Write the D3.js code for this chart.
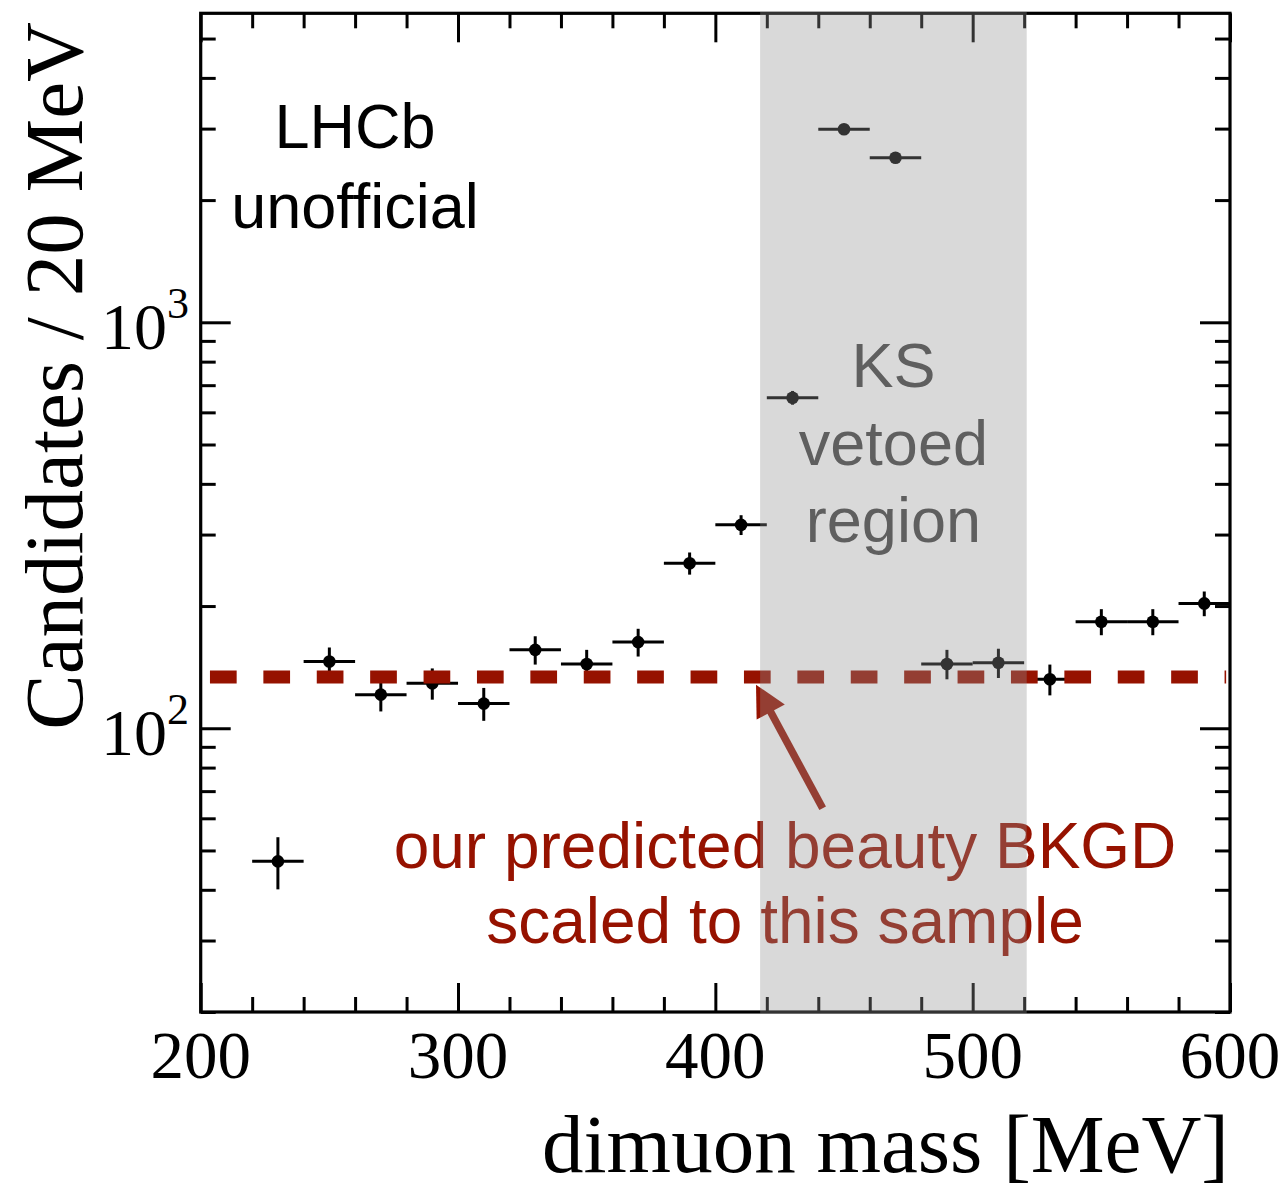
<!DOCTYPE html>
<html>
<head>
<meta charset="utf-8">
<script src="https://cdn.jsdelivr.net/npm/d3@7"></script>
<style>
  html, body { margin: 0; padding: 0; background: #fff; }
  svg { display: block; }
</style>
</head>
<body>
<svg id="chart" width="1285" height="1191"></svg>
<script>
// Dimuon mass spectrum, 20 MeV bins
const massBins = [230, 250, 270, 290, 310, 330, 350, 370, 390, 410, 430, 450, 470, 490, 510, 530, 550, 570, 590];
const counts   = [47, 146, 121, 129, 115, 156, 144, 163, 255, 317, 652, 2988, 2543, 144, 145, 132, 183, 183, 203];
const countErrs = [6.9, 12.1, 11.0, 11.4, 10.7, 12.5, 12.0, 12.8, 16.0, 17.8, 25.5, 54.7, 50.4, 12.0, 12.0, 11.5, 13.5, 13.5, 14.2];
const binHalfWidth = 10;

// Predicted beauty background level and its drawn extent
const bkgdLevel = 133.8;
const bkgdRange = [203.6, 598.5];

// K_S veto window
const vetoRange = [417.4, 521];

// Axis ranges and labels
const massDomain = [200, 600];
const countDomain = [20, 5770];
const xTickLabels = [200, 300, 400, 500, 600];
const yTickLabels = [100, 1000];
const yTickExponents = ["2", "3"];

// Arrow pointing at the background line
const arrowTail = { mass: 441.7, count: 63.5 };
const arrowTip  = { mass: 415.8, count: 128 };

const RED = "#961200";
const serif = "'Liberation Serif', 'Times New Roman', serif";
const sans = "'Liberation Sans', Arial, Helvetica, sans-serif";

const svg = d3.select("#chart");
const frame = { left: 200.7, right: 1230, top: 13.3, bottom: 1012 };

const x = d3.scaleLinear().domain(massDomain).range([frame.left, frame.right]);
const y = d3.scaleLog().domain(countDomain).range([frame.bottom, frame.top]);

const plot = svg.append("g");

// Frame ticks: majors long, minors short, mirrored on all four sides
const xMinor = x.ticks(20).filter(v => !xTickLabels.includes(v));
const yMinor = y.ticks().filter(v => !yTickLabels.includes(v));

function styleAxis(g) {
  g.select(".domain").remove();
  g.selectAll(".tick line").attr("stroke", "#000").attr("stroke-width", 3);
  g.selectAll(".tick text").remove();
}

function tickPair(axisFn, scale, pos, isX, majorLen, minorLen, minors, majors) {
  const tr = isX ? `translate(0,${pos})` : `translate(${pos},0)`;
  plot.append("g").attr("transform", tr)
    .call(axisFn(scale).tickValues(majors).tickSize(-majorLen).tickSizeOuter(0)).call(styleAxis);
  plot.append("g").attr("transform", tr)
    .call(axisFn(scale).tickValues(minors).tickSize(-minorLen).tickSizeOuter(0)).call(styleAxis);
}
tickPair(d3.axisBottom, x, frame.bottom, true, 29, 15, xMinor, xTickLabels);
tickPair(d3.axisTop, x, frame.top, true, 29, 15, xMinor, xTickLabels);
tickPair(d3.axisLeft, y, frame.left, false, 30, 15, yMinor, yTickLabels);
tickPair(d3.axisRight, y, frame.right, false, 30, 15, yMinor, yTickLabels);

// Frame
plot.append("rect")
  .attr("x", frame.left).attr("y", frame.top)
  .attr("width", frame.right - frame.left).attr("height", frame.bottom - frame.top)
  .attr("fill", "none").attr("stroke", "#000").attr("stroke-width", 3.2);

// Tick labels
svg.append("g").selectAll("text").data(xTickLabels).join("text")
  .attr("x", d => x(d)).attr("y", 1078)
  .attr("text-anchor", "middle")
  .attr("font-family", serif).attr("font-size", 67)
  .text(d => d);

const yLab = svg.append("g").selectAll("text").data(yTickLabels).join("text")
  .attr("x", 189).attr("y", d => y(d) + 27)
  .attr("text-anchor", "end")
  .attr("font-family", serif).attr("font-size", 66);
yLab.append("tspan").text("10");
yLab.append("tspan").attr("dy", -31).attr("font-size", 44).text((d, i) => yTickExponents[i]);

// Axis titles
svg.append("text")
  .attr("x", 1229).attr("y", 1172)
  .attr("text-anchor", "end")
  .attr("font-family", serif).attr("font-size", 83)
  .text("dimuon mass [MeV]");
svg.append("text")
  .attr("transform", "translate(82,22) rotate(-90)")
  .attr("text-anchor", "end")
  .attr("font-family", serif).attr("font-size", 83)
  .text("Candidates / 20 MeV");

// Data points with error bars
const pts = plot.append("g").selectAll("g").data(massBins).join("g");
pts.append("line")
  .attr("x1", d => x(d - binHalfWidth)).attr("x2", d => x(d + binHalfWidth))
  .attr("y1", (d, i) => y(counts[i])).attr("y2", (d, i) => y(counts[i]))
  .attr("stroke", "#000").attr("stroke-width", 3);
pts.append("line")
  .attr("x1", d => x(d)).attr("x2", d => x(d))
  .attr("y1", (d, i) => y(counts[i] - countErrs[i])).attr("y2", (d, i) => y(counts[i] + countErrs[i]))
  .attr("stroke", "#000").attr("stroke-width", 3);
pts.append("circle")
  .attr("cx", d => x(d)).attr("cy", (d, i) => y(counts[i]))
  .attr("r", 6.3).attr("fill", "#000");

// Predicted background level
plot.append("line")
  .attr("x1", x(bkgdRange[0])).attr("x2", x(bkgdRange[1]))
  .attr("y1", y(bkgdLevel)).attr("y2", y(bkgdLevel))
  .attr("stroke", RED).attr("stroke-width", 13)
  .attr("stroke-dasharray", "26.7 26.7");

// Annotation arrow
{
  const x0 = x(arrowTail.mass), y0 = y(arrowTail.count);
  const x1 = x(arrowTip.mass), y1 = y(arrowTip.count);
  const ang = Math.atan2(y1 - y0, x1 - x0);
  const headLen = 31, headHalf = 16;
  const bx = x1 - headLen * Math.cos(ang), by = y1 - headLen * Math.sin(ang);
  const nx = -Math.sin(ang), ny = Math.cos(ang);
  plot.append("line")
    .attr("x1", x0).attr("y1", y0).attr("x2", bx + 4 * Math.cos(ang)).attr("y2", by + 4 * Math.sin(ang))
    .attr("stroke", RED).attr("stroke-width", 7.5);
  plot.append("path")
    .attr("d", `M${x1},${y1}L${bx + headHalf * nx},${by + headHalf * ny}L${bx - headHalf * nx},${by - headHalf * ny}Z`)
    .attr("fill", RED);
}

// Annotation texts
const vetoMid = x((vetoRange[0] + vetoRange[1]) / 2);
svg.append("text")
  .attr("font-family", sans).attr("font-size", 63)
  .attr("text-anchor", "middle").attr("fill", "#444")
  .selectAll("tspan").data(["KS", "vetoed", "region"]).join("tspan")
  .attr("x", vetoMid).attr("y", (d, i) => 387 + i * 77.5).text(d => d);

svg.append("text")
  .attr("font-family", sans).attr("font-size", 63)
  .attr("text-anchor", "middle").attr("fill", "#000")
  .selectAll("tspan").data(["LHCb", "unofficial"]).join("tspan")
  .attr("x", 355).attr("y", (d, i) => 148 + i * 80).text(d => d);

svg.append("text")
  .attr("font-family", sans).attr("font-size", 64)
  .attr("text-anchor", "middle").attr("fill", RED)
  .selectAll("tspan").data(["our predicted beauty BKGD", "scaled to this sample"]).join("tspan")
  .attr("x", 785).attr("y", (d, i) => 868 + i * 75).text(d => d);

// Semi-transparent veto band laid over everything inside the frame
svg.append("rect")
  .attr("x", x(vetoRange[0])).attr("y", frame.top - 1.6)
  .attr("width", x(vetoRange[1]) - x(vetoRange[0]))
  .attr("height", frame.bottom - frame.top + 3.2)
  .attr("fill", "rgb(146,146,146)").attr("fill-opacity", 0.35);
</script>
</body>
</html>
